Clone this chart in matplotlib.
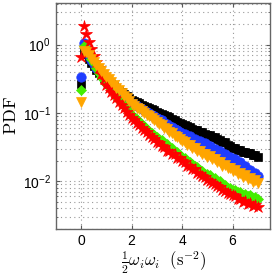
import matplotlib
matplotlib.use("Agg")
import matplotlib.pyplot as plt
import numpy as np

plt.rcParams['font.family'] = ['Liberation Sans', 'DejaVu Sans']
plt.rcParams['mathtext.fontset'] = 'cm'

x = [round(0.1 * i, 1) for i in range(71)]

black = [0.27, 0.80, 0.72, 0.62, 0.54, 0.48, 0.43, 0.39, 0.355, 0.325,
         0.30, 0.281, 0.263, 0.246, 0.23, 0.215, 0.201, 0.188, 0.176, 0.165,
         0.155, 0.149, 0.144, 0.138, 0.133, 0.128, 0.123, 0.118, 0.114, 0.109,
         0.105, 0.101, 0.097, 0.094, 0.089, 0.086, 0.082, 0.079, 0.075, 0.072,
         0.069, 0.067, 0.064, 0.062, 0.059, 0.057, 0.056, 0.053, 0.052, 0.049,
         0.048, 0.047, 0.044, 0.044, 0.041, 0.040, 0.037, 0.037, 0.034, 0.033,
         0.031, 0.031, 0.029, 0.029, 0.027, 0.027, 0.026, 0.026, 0.024, 0.024,
         0.023]

blue = [0.34, 1.07, 0.85, 0.70, 0.60, 0.52, 0.46, 0.41, 0.37, 0.335,
        0.305, 0.282, 0.26, 0.24, 0.222, 0.205, 0.19, 0.176, 0.163, 0.151,
        0.14, 0.134, 0.127, 0.121, 0.115, 0.109, 0.104, 0.099, 0.094, 0.089,
        0.085, 0.081, 0.078, 0.072, 0.070, 0.065, 0.063, 0.058, 0.057, 0.052,
        0.050, 0.049, 0.045, 0.046, 0.042, 0.042, 0.039, 0.039, 0.036, 0.036,
        0.034, 0.033, 0.030, 0.030, 0.028, 0.028, 0.025, 0.025, 0.023, 0.023,
        0.021, 0.021, 0.018, 0.019, 0.016, 0.017, 0.0145, 0.0148, 0.0128, 0.0132,
        0.0118]

green = [0.22, 0.97, 0.90, 0.75, 0.62, 0.53, 0.45, 0.39, 0.34, 0.30,
         0.265, 0.238, 0.215, 0.193, 0.174, 0.157, 0.142, 0.128, 0.116, 0.105,
         0.095, 0.088, 0.081, 0.075, 0.069, 0.064, 0.059, 0.055, 0.051, 0.048,
         0.045, 0.042, 0.040, 0.036, 0.035, 0.031, 0.031, 0.027, 0.027, 0.024,
         0.023, 0.022, 0.020, 0.019, 0.018, 0.0165, 0.016, 0.0145, 0.0142, 0.013,
         0.0126, 0.0122, 0.0111, 0.0110, 0.0099, 0.0100, 0.0090, 0.0089, 0.0081, 0.0081,
         0.0075, 0.0075, 0.0069, 0.0070, 0.0064, 0.0066, 0.0060, 0.0062, 0.0057, 0.0059,
         0.0055]

orange = [0.145, 0.82, 0.78, 0.70, 0.62, 0.55, 0.50, 0.45, 0.41, 0.375,
          0.34, 0.31, 0.283, 0.258, 0.236, 0.215, 0.196, 0.179, 0.163, 0.149,
          0.136, 0.128, 0.120, 0.113, 0.106, 0.100, 0.094, 0.089, 0.084, 0.079,
          0.074, 0.069, 0.066, 0.060, 0.058, 0.052, 0.051, 0.046, 0.045, 0.041,
          0.039, 0.037, 0.034, 0.034, 0.031, 0.031, 0.028, 0.028, 0.025, 0.0255,
          0.023, 0.0235, 0.021, 0.0212, 0.019, 0.0193, 0.0170, 0.0173, 0.0155, 0.0158,
          0.0143, 0.0146, 0.0130, 0.0134, 0.0117, 0.0122, 0.0108, 0.0112, 0.0098, 0.0103,
          0.0094]

red = [0.65, 1.90, 1.45, 1.10, 0.85, 0.68, 0.55, 0.45, 0.37, 0.31,
       0.26, 0.23, 0.205, 0.183, 0.163, 0.146, 0.131, 0.117, 0.105, 0.094,
       0.085, 0.078, 0.072, 0.067, 0.061, 0.057, 0.052, 0.048, 0.044, 0.041,
       0.038, 0.036, 0.033, 0.032, 0.028, 0.028, 0.025, 0.025, 0.022, 0.022,
       0.020, 0.019, 0.017, 0.017, 0.015, 0.015, 0.0133, 0.0130, 0.0118, 0.0115,
       0.0106, 0.0102, 0.0093, 0.0092, 0.0084, 0.0083, 0.0075, 0.0073, 0.0068, 0.0066,
       0.0062, 0.0060, 0.0055, 0.0056, 0.0050, 0.0052, 0.0046, 0.0048, 0.0043, 0.0045,
       0.0042]

series = [
    (black, 's', '#000000', 5.5),
    (blue, 'o', '#1f3cff', 6.8),
    (green, 'D', '#44ee00', 5.5),
    (red, '*', '#ff0000', 9.0),
    (orange, 'v', '#ffa500', 7.2),
]

fig = plt.figure(figsize=(2.74, 2.79), dpi=100)
ax = fig.add_axes([0.204, 0.179, 0.783, 0.811])

for vals, m, c, ms in series:
    ax.plot(x, vals, linestyle='none', marker=m, color=c, markersize=ms,
            markeredgewidth=0.5, markeredgecolor=c)

ax.set_yscale('log')
ax.set_ylim(0.002, 4.1)
ax.set_xlim(-1, 7.5)
ax.set_xticks([0, 2, 4, 6])
gls = (0, (1, 3))
ax.grid(True, which='major', linestyle=gls, color='0.6', linewidth=0.8)
ax.grid(True, which='minor', axis='y', linestyle=gls, color='0.6', linewidth=0.8)
ax.tick_params(which='both', direction='in', top=True, right=True, labelsize=10,
               color='0.35')
ax.tick_params(which='major', length=3)
ax.tick_params(which='minor', length=1.5)
for s in ax.spines.values():
    s.set_color('0.4')
    s.set_linewidth(1.0)

ax.set_ylabel(r'$\mathrm{PDF}$', fontsize=13, labelpad=2)
ax.set_xlabel(r'$\frac{1}{2}\omega_i\omega_i\ \ (\mathrm{s}^{-2})$', fontsize=12, labelpad=1)

fig.savefig('out.png', dpi=100)
